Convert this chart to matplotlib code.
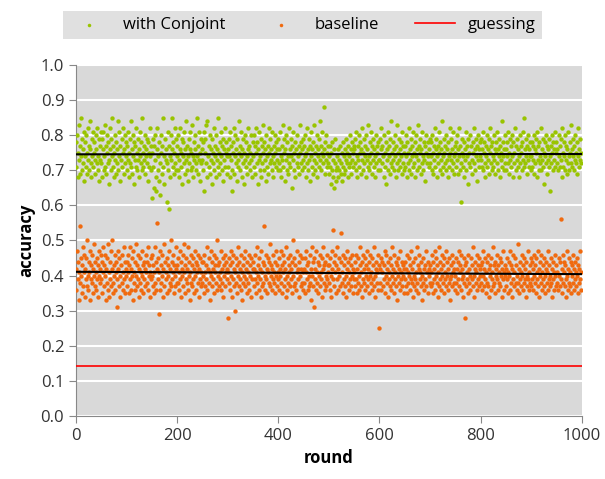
import numpy as np
import matplotlib.pyplot as plt

# accuracy per round, in hundredths (one value per round)
conjoint_txt = """
78 71 80 68 75 83 73 69 77 74 85 70 79 72 76 81 67 74 78 71 80 75 69 82 73 77 70 76 84 72 68 79 74 81 71 75 78 69 73 80 76 72 82 70 74 79 67 77 73 81
72 79 68 76 81 70 74 83 71 77 69 80 75 72 78 66 73 82 76 70 79 74 85 71 77 68 75 80 73 69 78 72 76 84 70 74 81 67 77 73 79 71 75 82 69 76 72 80 74 78
70 77 73 81 68 75 79 72 84 71 76 69 80 74 78 66 73 77 71 82 75 70 79 73 76 68 81 74 72 78 70 85 75 71 77 73 80 69 76 74 79 72 67 78 75 71 82 74 77 70
75 62 79 71 65 77 73 80 68 64 76 82 70 74 67 78 63 72 80 75 69 77 85 71 74 66 79 73 76 61 72 81 70 59 77 74 68 80 73 76 85 71 78 69 75 82 72 70 79 74
77 70 80 73 68 76 82 71 75 79 66 74 78 72 81 69 76 73 84 70 77 74 67 79 72 76 81 70 75 83 71 74 68 78 73 80 76 70 72 85 74 69 77 81 73 75 67 79 72 76
73 78 70 81 64 75 79 72 83 68 84 74 71 77 80 69 76 73 66 79 72 75 82 70 77 74 68 80 73 76 71 85 69 75 78 72 81 74 70 77 67 79 73 76 82 71 75 78 69 74
76 71 79 74 68 81 73 77 70 64 78 75 82 69 74 80 72 76 67 79 73 71 84 75 70 77 74 81 68 76 72 79 66 75 80 73 71 78 74 69 82 76 72 77 70 75 80 73 68 78
74 80 71 77 69 75 82 72 78 66 76 73 81 70 74 79 68 77 72 83 75 70 78 73 76 67 80 74 71 77 69 82 75 72 79 73 76 70 81 74 68 77 72 80 75 71 78 73 76 70
79 72 76 70 81 74 68 77 73 83 71 75 79 67 76 73 80 70 78 74 69 82 72 76 71 79 74 65 77 73 81 70 75 78 68 76 72 80 74 71 77 69 83 75 72 78 70 76 73 79
71 77 74 80 68 75 72 82 76 70 79 73 67 77 74 81 71 76 69 78 73 83 75 70 77 72 80 68 76 74 79 71 84 73 77 70 75 81 72 74 88 76 69 78 73 80 71 75 77 72
74 69 77 71 66 75 70 78 68 73 76 65 72 79 70 67 74 71 76 68 73 70 77 69 72 75 67 78 71 74 69 76 70 73 79 72 75 68 77 71 74 80 72 76 69 78 73 75 71 77
76 72 79 70 81 74 68 77 73 80 71 75 78 69 76 73 82 70 75 79 72 77 74 68 80 73 76 71 83 74 70 78 72 75 81 69 77 73 79 71 76 74 68 80 72 77 75 70 78 73
73 79 70 76 82 72 77 74 68 80 75 71 78 66 76 73 81 70 77 74 69 79 72 84 75 71 78 73 76 70 80 74 68 77 72 83 75 70 79 73 76 71 78 74 69 81 72 77 75 70
77 71 80 74 68 78 72 75 82 70 76 73 79 69 77 74 81 71 75 72 78 68 80 74 76 70 83 73 77 71 79 75 69 76 72 81 74 70 78 73 77 67 80 75 72 78 74 71 76 79
72 78 74 70 80 75 69 77 73 82 71 76 79 68 74 77 72 81 75 70 78 73 76 69 84 74 71 79 75 72 77 70 80 73 76 68 78 74 71 82 75 73 79 70 76 72 81 74 69 77
75 71 78 73 80 69 76 74 82 70 77 72 61 75 79 71 74 78 68 76 73 81 70 77 74 66 79 72 75 80 71 77 73 69 78 75 82 72 76 70 79 74 67 77 73 80 71 76 74 78
73 79 71 76 81 70 75 78 72 68 77 74 80 71 76 73 79 69 75 82 72 77 70 78 74 71 80 73 76 69 78 75 72 81 70 76 74 79 68 77 73 75 84 71 78 74 70 76 80 72
76 70 78 74 81 72 75 69 79 73 77 71 80 74 68 78 75 72 82 70 77 73 79 71 76 74 68 80 72 77 75 70 78 73 81 71 85 76 72 79 74 69 77 73 80 71 76 74 78 70
74 78 71 77 73 80 69 76 72 79 75 68 81 73 77 70 78 74 72 82 70 76 73 79 71 75 66 78 74 72 80 69 77 73 76 71 79 74 64 77 72 80 75 70 78 73 76 81 71 75
78 72 76 70 80 74 77 71 79 73 68 82 75 71 78 74 70 80 73 77 69 76 72 81 74 70 78 75 72 83 71 76 74 79 70 77 73 80 72 75 69 78 74 82 71 76 73 79 75 72
"""

baseline_txt = """
42 36 47 39 44 33 41 54 38 45 40 35 43 48 37 41 46 34 42 39 45 37 50 40 36 44 41 33 47 39 43 38 46 35 42 40 49 37 44 41 36 45 39 43 34 47 40 38 42 46
39 44 35 41 48 37 43 40 46 33 42 38 45 36 49 41 34 44 39 47 37 42 50 38 35 43 40 46 36 41 44 31 39 47 42 37 45 40 34 43 38 46 41 36 48 39 44 35 42 40
44 37 41 46 35 43 39 48 36 42 40 45 33 47 38 41 44 36 49 40 37 43 39 46 34 42 45 38 41 36 47 40 43 35 44 39 42 37 46 41 38 44 36 48 40 43 34 41 45 39
40 46 37 43 35 41 48 38 44 36 55 42 39 45 29 41 47 36 43 38 40 46 34 42 49 37 44 39 41 35 45 40 43 36 47 38 42 50 37 44 39 41 46 35 43 40 37 48 42 38
43 38 45 36 41 47 39 44 34 42 40 46 37 49 41 35 43 39 45 38 42 36 48 40 44 33 41 46 38 43 37 45 39 42 35 47 40 44 36 41 43 38 46 34 42 39 45 37 41 44
38 44 40 35 46 41 37 43 39 48 36 42 45 38 41 33 47 40 44 37 42 39 46 35 43 41 38 45 36 50 40 43 37 44 39 41 47 36 42 38 45 34 43 40 46 37 41 44 39 42
41 28 45 38 43 36 47 40 34 44 39 46 37 42 30 41 45 38 43 35 40 48 37 44 39 42 36 46 41 33 43 38 45 40 37 47 39 42 35 44 41 38 46 36 43 40 34 45 39 42
44 37 42 39 46 35 41 48 38 43 40 36 45 39 42 34 47 41 37 44 38 54 43 36 40 46 39 42 35 45 41 38 44 37 49 40 43 36 42 39 46 38 41 44 35 47 40 37 43 41
39 45 36 42 40 47 38 43 35 41 46 37 44 39 42 34 48 40 36 45 38 43 41 37 46 39 42 35 44 50 40 37 45 38 43 36 41 47 39 42 34 44 40 46 37 42 38 45 41 36
42 38 45 35 41 47 39 43 36 44 40 37 46 38 42 33 48 40 44 37 31 45 39 42 36 47 41 38 44 35 43 40 46 37 41 39 45 34 42 48 38 43 36 44 40 37 46 39 41 43
38 43 36 45 40 34 42 47 53 39 44 37 41 46 35 43 39 48 36 42 40 45 37 44 52 38 41 35 46 39 43 37 45 40 34 42 47 38 44 36 41 45 39 43 37 40 46 35 42 39
41 37 44 39 46 35 42 38 45 40 36 43 48 37 41 44 34 39 46 42 38 45 36 40 43 37 47 39 42 35 44 40 46 38 41 36 45 39 43 37 48 40 34 42 44 38 41 46 36 43
25 42 38 45 36 41 44 37 43 39 47 35 40 46 38 42 34 44 39 41 37 45 36 43 40 48 38 42 35 46 39 41 44 37 43 33 40 45 38 42 36 47 39 41 44 37 43 40 35 42
39 44 37 42 46 35 41 38 45 40 36 43 39 47 38 42 34 44 40 37 45 39 41 36 48 38 43 35 42 46 39 41 37 44 40 33 45 38 42 36 43 39 47 37 41 44 35 40 42 38
43 37 41 46 38 44 35 42 39 47 36 40 45 38 43 34 41 48 37 44 39 42 36 46 40 38 43 35 45 39 41 37 47 40 44 36 42 38 45 39 33 43 40 46 37 41 44 38 42 36
40 45 38 42 35 44 39 47 37 41 43 36 46 39 42 34 40 45 38 28 43 37 44 39 41 35 46 38 42 40 36 45 39 43 37 48 40 34 42 44 38 41 46 36 43 39 37 45 40 42
38 43 36 44 40 47 37 42 39 45 35 41 44 38 46 37 42 34 43 40 36 45 39 41 48 37 43 38 44 35 42 40 46 39 36 43 41 38 45 37 44 40 34 42 47 39 41 36 43 40
42 37 45 39 41 35 44 40 47 36 43 38 42 34 46 39 41 37 45 38 43 36 40 49 38 42 35 44 39 41 37 46 40 36 43 38 45 39 42 34 44 40 37 47 39 41 36 43 38 45
37 44 39 42 36 46 40 38 43 35 45 39 41 47 37 42 34 44 40 38 46 36 41 43 39 37 45 40 35 42 44 38 41 36 47 39 43 37 40 45 38 42 34 44 39 41 36 46 40 37
43 38 41 36 45 40 37 44 56 39 42 35 46 38 41 44 37 43 39 34 47 40 36 42 45 38 41 37 44 35 43 40 46 38 42 36 44 39 41 37 45 40 35 43 38 42 47 39 36 41
"""

conjoint = np.array(conjoint_txt.split(), dtype=float) / 100
baseline = np.array(baseline_txt.split(), dtype=float) / 100
guessing = 1 / 7

green = '#99c400'
orange = '#f06a0f'

plt.rcParams['font.family'] = ['Open Sans', 'DejaVu Sans']

fig = plt.figure(figsize=(6.05, 4.79), dpi=100)
ax = fig.add_axes([0.1256, 0.1315, 0.836, 0.733])
ax.set_facecolor('#d9d9d9')

ax.scatter(np.arange(len(conjoint)), conjoint, s=10, color=green, marker='o',
           linewidths=0, label='with Conjoint', zorder=3)
ax.scatter(np.arange(len(baseline)), baseline, s=10, color=orange, marker='o',
           linewidths=0, label='baseline', zorder=3)
ax.axhline(guessing, color='#ff0000', lw=1.2, label='guessing', zorder=4)

# linear trend lines
for y in (conjoint, baseline):
    x = np.arange(len(y))
    k, b = np.polyfit(x, y, 1)
    ax.plot([0, 1000], [b, b + k * 1000], color='black', lw=1.5, zorder=5)

ax.set_xlim(0, 1000)
ax.set_ylim(0, 1.0)
ax.set_xticks(np.arange(0, 1001, 200))
ax.set_yticks(np.arange(0, 1.01, 0.1))
ax.set_yticklabels([f'{v:.1f}' for v in np.arange(0, 1.01, 0.1)])
ax.grid(axis='y', color='white', lw=1.5, zorder=1)
ax.set_axisbelow(True)

for s in ('top', 'right'):
    ax.spines[s].set_visible(False)
for s in ('left', 'bottom'):
    ax.spines[s].set_color('#888888')
ax.tick_params(colors='#888888', labelcolor='#333333', labelsize=12, length=5)

ax.set_xlabel('round', fontsize=12, fontweight='bold')
ax.set_ylabel('accuracy', fontsize=12, fontweight='bold')

leg = fig.legend(loc='center', bbox_to_anchor=(0.091, 0.912, 0.818, 0.071),
                 mode='expand', ncol=3, frameon=True, fancybox=False,
                 fontsize=12, markerscale=0.8, handlelength=2.4,
                 borderpad=0.35, columnspacing=1.0)
leg.get_frame().set_facecolor('#d9d9d9')
leg.get_frame().set_edgecolor('none')

fig.savefig('out.png', dpi=100)
